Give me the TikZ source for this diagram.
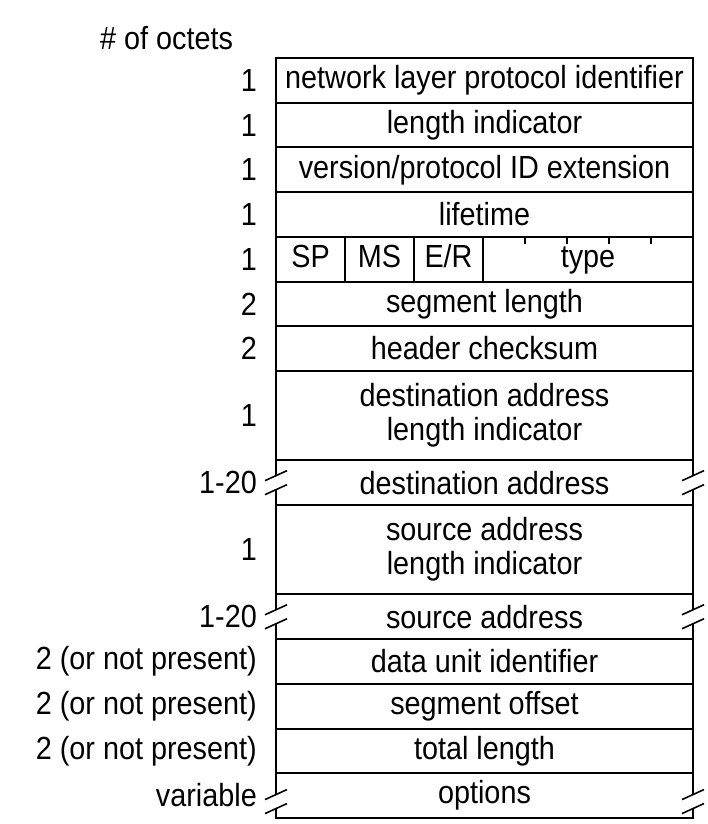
\documentclass[tikz,border=0pt]{standalone}
\usepackage{fontspec}
\setmainfont{Liberation Sans}[FakeStretch=0.9]
\usetikzlibrary{positioning,calc}

% break in a side edge of a variable-length field
\newcommand{\cutmark}[1]{%
  \fill[white] ($(#1)+(-3,-7)$) rectangle ($(#1)+(3,7)$);
  \draw[cut] ($(#1)+(-11,-2)$) -- ($(#1)+(11,-12)$);
  \draw[cut] ($(#1)+(-11,12)$) -- ($(#1)+(11,2)$);
}

\begin{document}
\begin{tikzpicture}[x=1pt, y=-1pt,
      field/.style={draw, line width=2pt, minimum width=417pt, minimum height=44.7pt, inner sep=0pt, outer sep=0pt, align=center, font=\fontsize{32}{34}\selectfont},
      flag/.style={field, minimum width=69pt, text height=23pt, text depth=6pt},
      octets/.style={inner sep=0pt, font=\fontsize{32}{34}\selectfont},
      cut/.style={line width=1.6pt}]
    \useasboundingbox (0,0) rectangle (708,824);
    \node[octets, anchor=west] (head) at (100,38) {\# of octets};
    % header fields
    \node[field] (nlpid) at (484.5,80.35) {network layer protocol identifier};
    \node[field, below=0pt of nlpid] (li) {length indicator};
    \node[field, below=0pt of li] (ver) {version/protocol ID extension};
    \node[field, below=0pt of ver] (life) {lifetime};
    \node[field, below=0pt of life] (flags) {};
    \node[flag, right=0pt of flags.west] (sp) {SP};
    \node[flag, right=0pt of sp] (ms) {MS};
    \node[flag, right=0pt of ms] (er) {E/R};
    \node[flag, minimum width=210pt, right=0pt of er] (type) {type};
    \foreach \k in {1,...,4}
      \draw[line width=1.6pt] (type.north west) ++(42*\k,0) -- ++(0,7);
    \node[field, below=0pt of flags] (seglen) {segment length};
    \node[field, below=0pt of seglen] (chk) {header checksum};
    \node[field, minimum height=89.4pt, below=0pt of chk] (dali) {destination address\\length indicator};
    \node[field, below=0pt of dali] (dst) {destination address};
    \node[field, minimum height=89.4pt, below=0pt of dst] (sali) {source address\\length indicator};
    \node[field, below=0pt of sali] (src) {source address};
    \node[field, below=0pt of src] (duid) {data unit identifier};
    \node[field, below=0pt of duid] (segoff) {segment offset};
    \node[field, below=0pt of segoff] (tot) {total length};
    \node[field, below=0pt of tot] (opt) {options};
    % octet counts
    \node[octets, left=19pt of nlpid] (c1) {1};
    \node[octets, left=19pt of li] (c2) {1};
    \node[octets, left=19pt of ver] (c3) {1};
    \node[octets, left=19pt of life] (c4) {1};
    \node[octets, left=19pt of sp] (c5) {1};
    \node[octets, left=19pt of seglen] (c6) {2};
    \node[octets, left=19pt of chk] (c7) {2};
    \node[octets, left=19pt of dali] (c8) {1};
    \node[octets, left=19pt of dst] (c9) {1-20};
    \node[octets, left=19pt of sali] (c10) {1};
    \node[octets, left=19pt of src] (c11) {1-20};
    \node[octets, left=19pt of duid] (c12) {2 (or not present)};
    \node[octets, left=19pt of segoff] (c13) {2 (or not present)};
    \node[octets, left=19pt of tot] (c14) {2 (or not present)};
    \node[octets, left=19pt of opt] (c15) {variable};
    % breaks
    \coordinate (optw) at ($(opt.west)+(0,6)$);
    \coordinate (opte) at ($(opt.east)+(0,6)$);
    \cutmark{dst.west}
    \cutmark{dst.east}
    \cutmark{src.west}
    \cutmark{src.east}
    \cutmark{optw}
    \cutmark{opte}
  \end{tikzpicture}
\end{document}
